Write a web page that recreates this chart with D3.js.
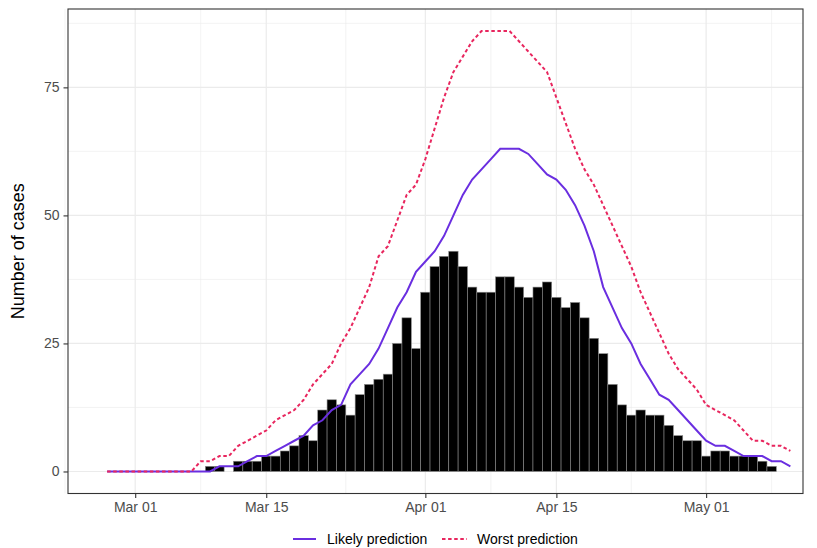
<!DOCTYPE html>
<html>
<head>
<meta charset="utf-8">
<script src="https://cdn.jsdelivr.net/npm/d3@7"></script>
<style>
  body { margin: 0; background: #fff; }
  svg { display: block; font-family: "Liberation Sans", Arial, sans-serif; }
</style>
</head>
<body>
<div id="chart"></div>
<script>
// daily reported cases, one bar per day starting on barStart
const barStart = '2020-03-09';
const cases = [1, 1, 0, 2, 2, 2, 3, 3, 4, 5, 7, 6, 12, 14, 13, 11, 15, 17, 18, 19,
  25, 30, 24, 35, 40, 42, 43, 40, 36, 35, 35, 38, 38, 36, 34, 36, 37, 34, 32, 33,
  30, 26, 23, 17, 13, 11, 12, 11, 11, 9, 7, 6, 6, 3, 4, 4, 3, 3, 3, 2, 1];

// model predictions, one value per day starting on lineStart
const lineStart = '2020-02-27';
const likely = [0, 0, 0, 0, 0, 0, 0, 0, 0, 0, 0, 0, 1, 1, 1, 2, 3, 3, 4, 5,
  6, 7, 9, 10, 12, 13, 17, 19, 21, 24, 28, 32, 35, 39, 41, 43, 46, 50, 54, 57,
  59, 61, 63, 63, 63, 62, 60, 58, 57, 55, 52, 48, 43, 36, 32, 28, 25, 21, 18, 15,
  14, 12, 10, 8, 6, 5, 5, 4, 3, 3, 3, 2, 2, 1];
const worst = [0, 0, 0, 0, 0, 0, 0, 0, 0, 0, 2, 2, 3, 3, 5, 6, 7, 8, 10, 11,
  12, 14, 17, 19, 21, 25, 28, 32, 36, 42, 44, 49, 54, 56, 61, 67, 73, 78, 81, 84,
  86, 86, 86, 86, 84, 82, 80, 78, 73, 68, 63, 59, 56, 52, 48, 44, 40, 35, 31, 27,
  23, 20, 18, 16, 13, 12, 11, 10, 8, 6, 6, 5, 5, 4];

const yTicks = [0, 25, 50, 75];
const yMinor = [12.5, 37.5, 62.5, 87.5];
const xTicks = ['2020-03-01', '2020-03-15', '2020-04-01', '2020-04-15', '2020-05-01'];
const xMinor = ['2020-02-22T12:00', '2020-03-08', '2020-03-23T12:00', '2020-04-08', '2020-04-23', '2020-05-08'];

const series = [
  { name: 'Likely prediction', values: likely, color: '#6a2ee0', dash: null },
  { name: 'Worst prediction', values: worst, color: '#e8265e', dash: '3.5,2.6' },
];

const parse = (s) => new Date(s.length > 10 ? s + 'Z' : s + 'T00:00Z');

const width = 817;
const height = 548;
const panel = { left: 68, right: 803, top: 9, bottom: 493.5 };

const svg = d3.select('#chart')
  .append('svg')
  .attr('width', width)
  .attr('height', height);

svg.append('rect').attr('width', width).attr('height', height).attr('fill', '#fff');

const x = d3.scaleUtc()
  .domain([parse('2020-02-22T19:40'), parse('2020-05-11T08:24')])
  .range([panel.left, panel.right]);

const y = d3.scaleLinear()
  .domain([-4.3, 90.3])
  .range([panel.bottom, panel.top]);

// gridlines
const grid = svg.append('g');
grid.selectAll('.ymin').data(yMinor).join('line')
  .attr('x1', panel.left).attr('x2', panel.right)
  .attr('y1', (d) => y(d)).attr('y2', (d) => y(d))
  .attr('stroke', '#ebebeb').attr('stroke-width', 0.6);
grid.selectAll('.xmin').data(xMinor.map(parse)).join('line')
  .attr('x1', (d) => x(d)).attr('x2', (d) => x(d))
  .attr('y1', panel.top).attr('y2', panel.bottom)
  .attr('stroke', '#ebebeb').attr('stroke-width', 0.6);
grid.selectAll('.ymaj').data(yTicks).join('line')
  .attr('x1', panel.left).attr('x2', panel.right)
  .attr('y1', (d) => y(d)).attr('y2', (d) => y(d))
  .attr('stroke', '#ebebeb').attr('stroke-width', 1.2);
grid.selectAll('.xmaj').data(xTicks.map(parse)).join('line')
  .attr('x1', (d) => x(d)).attr('x2', (d) => x(d))
  .attr('y1', panel.top).attr('y2', panel.bottom)
  .attr('stroke', '#ebebeb').attr('stroke-width', 1.2);

// bars
const b0 = parse(barStart);
const bars = cases.map((v, i) => ({ date: d3.utcDay.offset(b0, i), value: v }));
svg.append('g')
  .selectAll('rect')
  .data(bars.filter((d) => d.value > 0))
  .join('rect')
  .attr('x', (d) => x(d3.utcHour.offset(d.date, -12)))
  .attr('width', (d) => x(d3.utcHour.offset(d.date, 12)) - x(d3.utcHour.offset(d.date, -12)))
  .attr('y', (d) => y(d.value))
  .attr('height', (d) => y(0) - y(d.value))
  .attr('fill', '#000')
  .attr('stroke', '#8a8a8a')
  .attr('stroke-width', 0.6);

// prediction lines
const l0 = parse(lineStart);
const line = d3.line()
  .x((d, i) => x(d3.utcDay.offset(l0, i)))
  .y((d) => y(d));

series.forEach((s) => {
  svg.append('path')
    .datum(s.values)
    .attr('d', line)
    .attr('fill', 'none')
    .attr('stroke', s.color)
    .attr('stroke-width', 2)
    .attr('stroke-dasharray', s.dash);
});

// panel border
svg.append('rect')
  .attr('x', panel.left).attr('y', panel.top)
  .attr('width', panel.right - panel.left)
  .attr('height', panel.bottom - panel.top)
  .attr('fill', 'none')
  .attr('stroke', '#333')
  .attr('stroke-width', 1.1);

// axes
const xAxis = svg.append('g')
  .attr('transform', `translate(0,${panel.bottom})`)
  .call(d3.axisBottom(x)
    .tickValues(xTicks.map(parse))
    .tickFormat(d3.utcFormat('%b %d'))
    .tickSize(4.5)
    .tickPadding(4));
xAxis.select('.domain').remove();

const yAxis = svg.append('g')
  .attr('transform', `translate(${panel.left},0)`)
  .call(d3.axisLeft(y)
    .tickValues(yTicks)
    .tickSize(4.5)
    .tickPadding(4));
yAxis.select('.domain').remove();

svg.selectAll('.tick line').attr('stroke', '#333').attr('stroke-width', 1.1);
svg.selectAll('.tick text')
  .attr('fill', '#4d4d4d')
  .style('font-size', '14px')
  .style('font-family', '"Liberation Sans", Arial, sans-serif');

svg.append('text')
  .attr('transform', `translate(24,${(panel.top + panel.bottom) / 2}) rotate(-90)`)
  .attr('text-anchor', 'middle')
  .style('font-size', '18px')
  .attr('fill', '#000')
  .text('Number of cases');

// legend
const legendY = 539;
const legendItems = [
  { s: series[0], x1: 293, x2: 316, tx: 327 },
  { s: series[1], x1: 442, x2: 467, tx: 477 },
];
legendItems.forEach((d) => {
  svg.append('line')
    .attr('x1', d.x1).attr('x2', d.x2)
    .attr('y1', legendY).attr('y2', legendY)
    .attr('stroke', d.s.color)
    .attr('stroke-width', 2)
    .attr('stroke-dasharray', d.s.dash);
  svg.append('text')
    .attr('x', d.tx).attr('y', legendY)
    .attr('dy', '0.35em')
    .style('font-size', '14px')
    .attr('fill', '#000')
    .text(d.s.name);
});
</script>
</body>
</html>
